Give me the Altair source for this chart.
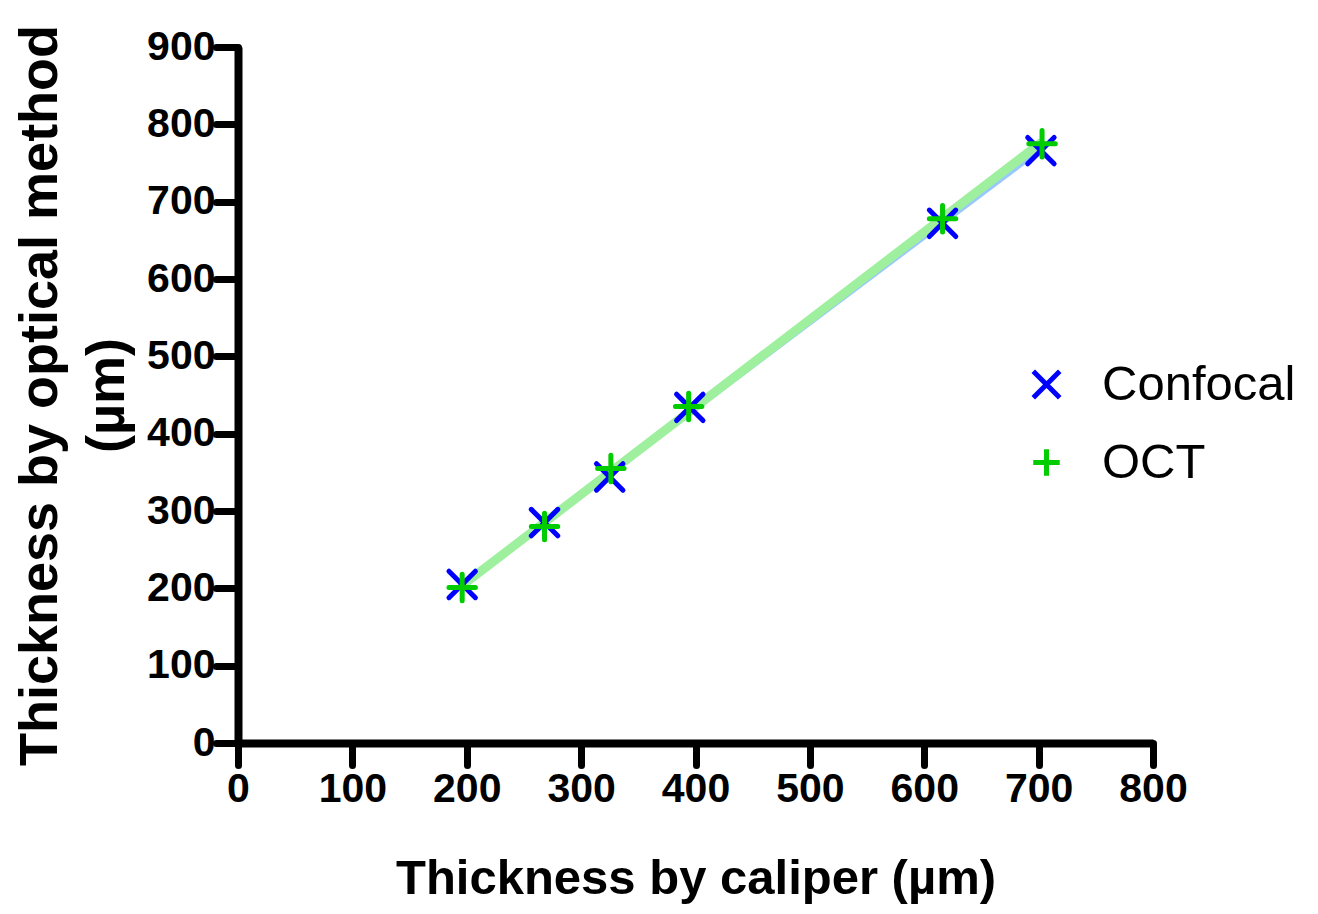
import altair as alt
import pandas as pd

series_names = ["Confocal", "OCT"]
confocal_x = [196, 268, 325, 395, 616, 702]
confocal_y = [205, 285, 344, 434, 672, 766]
oct_x = [196, 268, 326, 394, 616, 703]
oct_y = [201, 280, 355, 435, 678, 775]

x_ticks = [0, 100, 200, 300, 400, 500, 600, 700, 800]
y_ticks = [0, 100, 200, 300, 400, 500, 600, 700, 800, 900]

marker_colors = ["#0000ff", "#00cc00"]
line_colors = ["#99c8ff", "#9ef09e"]
x_path = "M-1,-1L1,1M1,-1L-1,1"
plus_path = "M0,-1L0,1M-1,0L1,0"

rows = []
for xv, yv in zip(confocal_x, confocal_y):
    rows.append({"series": "Confocal", "x": xv, "y": yv})
for xv, yv in zip(oct_x, oct_y):
    rows.append({"series": "OCT", "x": xv, "y": yv})
df = pd.DataFrame(rows)

FONT = "Liberation Sans"

xenc = alt.X(
    "x:Q",
    scale=alt.Scale(domain=[0, 800], nice=False, zero=True),
    axis=alt.Axis(
        values=x_ticks,
        title="Thickness by caliper (µm)",
        labelFont=FONT, labelFontSize=41, labelFontWeight="bold", labelColor="black",
        labelPadding=4, labelFlush=False,
        titleFont=FONT, titleFontSize=49, titleFontWeight="bold", titleColor="black",
        titlePadding=45,
        domainColor="black", domainWidth=8, tickColor="black", tickWidth=7, tickSize=22,
        tickCap="round", grid=False,
    ),
)
yenc = alt.Y(
    "y:Q",
    scale=alt.Scale(domain=[0, 900], nice=False, zero=True),
    axis=alt.Axis(
        values=y_ticks,
        title=["Thickness by optical method", "(µm)"],
        labelFont=FONT, labelFontSize=41, labelFontWeight="bold", labelColor="black",
        labelPadding=1, labelFlush=False,
        titleFont=FONT, titleFontSize=54, titleFontWeight="bold", titleColor="black",
        titleLineHeight=67, titlePadding=12,
        domainColor="black", domainWidth=8, tickColor="black", tickWidth=7, tickSize=22,
        tickCap="round", grid=False,
    ),
)

base = alt.Chart(df)

lines = []
for name, col, w in zip(series_names, line_colors, [5, 9]):
    lines.append(
        base.transform_filter(alt.datum.series == name)
        .transform_regression("x", "y")
        .mark_line(color=col, strokeWidth=w, strokeCap="butt")
        .encode(x=xenc, y=yenc)
    )

points = base.mark_point(filled=False, strokeWidth=5, strokeCap="round", size=700, opacity=1).encode(
    x=xenc,
    y=yenc,
    color=alt.Color(
        "series:N",
        scale=alt.Scale(domain=series_names, range=marker_colors),
        legend=alt.Legend(
            title=None, orient="none", legendX=784, legendY=313,
            labelFont=FONT, labelFontSize=49, labelColor="black", labelLimit=400,
            labelOffset=31, rowPadding=28, symbolSize=700, symbolStrokeWidth=5,
            padding=0,
        ),
    ),
    shape=alt.Shape(
        "series:N",
        scale=alt.Scale(domain=series_names, range=[x_path, plus_path]),
    ),
    order=alt.Order("series:N"),
)

chart = alt.layer(*lines, points).properties(
    width=915, height=696,
    autosize=alt.AutoSizeParams(type="none"),
    padding={"left": 230, "top": 39, "right": 157, "bottom": 163},
).configure(background="white").configure_view(strokeWidth=0)

chart.save("out.html", embed_options={"renderer": "svg", "actions": False})
